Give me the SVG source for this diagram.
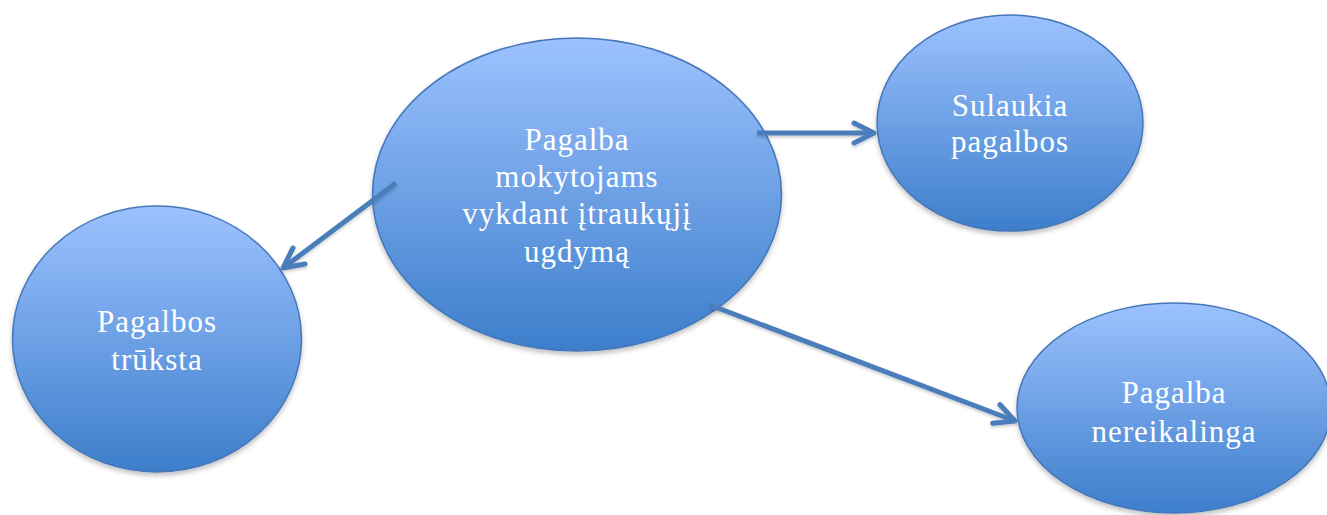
<svg xmlns="http://www.w3.org/2000/svg" width="1327" height="515" viewBox="0 0 1327 515">
  <defs>
    <linearGradient id="g" x1="0" y1="0" x2="0" y2="1">
      <stop offset="0" stop-color="#9cc2ff"/>
      <stop offset="1" stop-color="#3d7ecb"/>
    </linearGradient>
    <filter id="sh" x="-10%" y="-10%" width="120%" height="125%">
      <feDropShadow dx="0" dy="3" stdDeviation="2.5" flood-color="#000" flood-opacity="0.25"/>
    </filter>
    <filter id="lsh" filterUnits="userSpaceOnUse" x="0" y="0" width="1327" height="515">
      <feDropShadow dx="0" dy="2" stdDeviation="1.5" flood-color="#000" flood-opacity="0.2"/>
    </filter>
    <marker id="arr" markerUnits="userSpaceOnUse" markerWidth="30" markerHeight="30" refX="24" refY="12" orient="auto" viewBox="0 0 30 24">
      <path d="M4,2 L24,12 L4,22" fill="none" stroke="#4a7ebb" stroke-width="5" stroke-linecap="round" stroke-linejoin="round"/>
    </marker>
    <style>
      .node ellipse { fill: url(#g); stroke: #4577b8; stroke-width: 1.5; filter: url(#sh); }
      .node text { font-family: "Liberation Serif", "DejaVu Serif", serif; font-size: 31px; letter-spacing: 1px; fill: #ffffff; text-anchor: middle; }
      .conn line { stroke: #4a7ebb; stroke-width: 5; marker-end: url(#arr); }
    </style>
  </defs>
  <rect width="1327" height="515" fill="#ffffff"/>
  <g id="n-center" class="node">
    <ellipse cx="577" cy="194.5" rx="204.5" ry="156.5"/>
    <text x="577" y="150">Pagalba</text>
    <text x="577" y="187">mokytojams</text>
    <text x="577" y="224">vykdant įtraukųjį</text>
    <text x="577" y="262">ugdymą</text>
  </g>
  <g id="n-sulaukia" class="node">
    <ellipse cx="1010" cy="123" rx="133" ry="108"/>
    <text x="1010" y="116">Sulaukia</text>
    <text x="1010" y="152">pagalbos</text>
  </g>
  <g id="n-truksta" class="node">
    <ellipse cx="157" cy="339" rx="144.5" ry="133"/>
    <text x="157" y="332">Pagalbos</text>
    <text x="157" y="370">trūksta</text>
  </g>
  <g id="n-nereikalinga" class="node">
    <ellipse cx="1174" cy="408" rx="157" ry="105"/>
    <text x="1174" y="403">Pagalba</text>
    <text x="1174" y="442">nereikalinga</text>
  </g>
  <g id="connectors" class="conn" filter="url(#lsh)">
    <line x1="757" y1="133" x2="874" y2="133"/>
    <line x1="396" y1="183" x2="283" y2="268"/>
    <line x1="710" y1="305" x2="1015" y2="421"/>
  </g>
</svg>
